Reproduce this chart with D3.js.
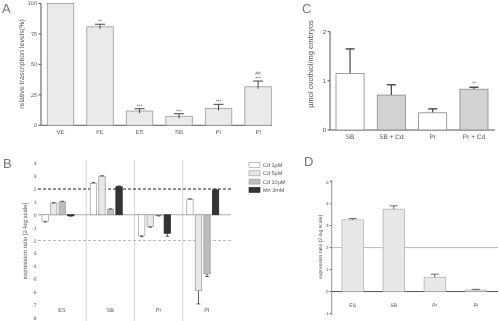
<!DOCTYPE html>
<html>
<head>
<meta charset="utf-8">
<script src="https://cdn.jsdelivr.net/npm/d3@7"></script>
<style>
  body { margin: 0; background: #fff; }
  svg { display: block; font-family: "Liberation Sans", Arial, sans-serif; text-rendering: geometricPrecision; will-change: transform; }
  text { -webkit-font-smoothing: antialiased; }
  .lbl { fill: #555; }
  .panel { fill: #777; font-size: 13px; }
</style>
</head>
<body>
<div class="display"></div>
<script>
// panel A: relative transcription levels
const aCats = ['VE', 'FE', 'ES', 'SB', 'Pr', 'Pl'];
const aVals = [100, 80.8, 11.7, 7.4, 13.9, 31.6];
const aErr = [0, 2.1, 1.9, 2.1, 3.3, 4.7];
const aMarks = [[], ['**'], ['***'], ['***'], ['***'], ['##', '***']];
const aTicks = [0, 25, 50, 75, 100];

// panel B: expression ratio per treatment
const bGroups = ['ES', 'SB', 'Pr', 'Pl'];
const bSeries = ['Cd 1µM', 'Cd 5µM', 'Cd 10µM', 'Mn 3mM'];
const bCd1 = [-0.5, 2.45, -1.62, 1.2];
const bCd5 = [0.9, 3.0, -0.92, -5.9];
const bCd10 = [1.0, 0.43, -0.07, -4.6];
const bMn = [-0.08, 2.18, -1.44, 1.93];
const bCd1Err = [0.06, 0.05, 0.08, 0.04];
const bCd5Err = [0.04, 0.03, 0.05, 1.03];
const bCd10Err = [0.05, 0.03, 0.02, 0.2];
const bMnErr = [0.03, 0.06, 0.23, 0.06];
const bTicks = [4, 3, 2, 1, 0, -1, -2, -3, -4, -5, -6, -7, -8];

// panel C: ovothiol content
const cCats = ['SB', 'SB + Cd', 'Pr', 'Pr + Cd'];
const cVals = [1.15, 0.71, 0.35, 0.83];
const cErr = [0.5, 0.21, 0.08, 0.04];
const cMarks = ['', '', '', '**'];
const cTicks = [0, 1, 2];

// panel D: expression ratio
const dCats = ['ES', 'SB', 'Pr', 'Pl'];
const dVals = [3.26, 3.75, 0.65, 0.07];
const dErr = [0.06, 0.15, 0.14, 0.03];
const dTicks = [5, 4, 3, 2, 1, 0, -1];

const bColors = ['#ffffff', '#e8e8e8', '#bdbdbd', '#333333'];
const cColors = ['#ffffff', '#d2d2d2', '#ffffff', '#d2d2d2'];

const svg = d3.select('.display')
  .append('svg')
  .attr('width', 500)
  .attr('height', 321);

svg.append('rect').attr('width', 500).attr('height', 321).attr('fill', '#fff');

const panelLetter = (x, y, t) => svg.append('text').attr('class', 'panel').attr('x', x).attr('y', y).text(t);

// ---------- A ----------
{
  const y = d3.scaleLinear().domain([0, 100]).range([125.3, 3.4]);
  const x = d3.scaleBand().domain(aCats).range([47.3, 271.3]).paddingInner(0.33);
  const g = svg.append('g');

  panelLetter(2, 13, 'A');

  g.append('line').attr('x1', 41).attr('x2', 272).attr('y1', y(0)).attr('y2', y(0))
    .attr('stroke', '#555').attr('stroke-width', 1);
  g.append('line').attr('x1', 41).attr('x2', 41).attr('y1', y(0)).attr('y2', y(100))
    .attr('stroke', '#555').attr('stroke-width', 1);

  aTicks.forEach(t => {
    g.append('line').attr('x1', 38.5).attr('x2', 41).attr('y1', y(t)).attr('y2', y(t)).attr('stroke', '#555');
    g.append('text').attr('class', 'lbl').attr('x', 37).attr('y', y(t) + 2)
      .attr('text-anchor', 'end').attr('font-size', 5.5).text(t);
  });

  g.append('text').attr('class', 'lbl').attr('font-size', 7)
    .attr('transform', `translate(24, 64) rotate(-90)`).attr('text-anchor', 'middle')
    .text('relative trascription levels(%)');

  aCats.forEach((c, i) => {
    const cx = x(c) + x.bandwidth() / 2;
    g.append('rect').attr('x', x(c)).attr('y', y(aVals[i]))
      .attr('width', x.bandwidth()).attr('height', y(0) - y(aVals[i]))
      .attr('fill', '#eaeaea').attr('stroke', '#9a9a9a').attr('stroke-width', 0.8);
    if (aErr[i] > 0) {
      const top = y(aVals[i] + aErr[i]);
      g.append('line').attr('x1', cx).attr('x2', cx).attr('y1', y(aVals[i]) + 2).attr('y2', top).attr('stroke', '#444');
      g.append('line').attr('x1', cx - 5).attr('x2', cx + 5).attr('y1', top).attr('y2', top).attr('stroke', '#444');
    }
    const top = y(aVals[i] + aErr[i]);
    aMarks[i].slice().reverse().forEach((m, k) => {
      g.append('text').attr('class', 'lbl').attr('x', cx).attr('y', top - 1 - k * 5.5)
        .attr('text-anchor', 'middle').attr('font-size', 5).text(m);
    });
    g.append('text').attr('class', 'lbl').attr('x', cx).attr('y', 133.5)
      .attr('text-anchor', 'middle').attr('font-size', 6).text(c);
  });
}

// ---------- B ----------
{
  const y = d3.scaleLinear().domain([-8, 4]).range([317.7, 163.3]);
  const xg = d3.scaleBand().domain(bGroups).range([38, 231]);
  const xs = d3.scaleBand().domain(bSeries).range([4, 36]).paddingInner(0.25);
  const vals = [bCd1, bCd5, bCd10, bMn];
  const errs = [bCd1Err, bCd5Err, bCd10Err, bMnErr];
  const g = svg.append('g');

  panelLetter(3, 168, 'B');

  bGroups.slice(1).forEach(c => {
    g.append('line').attr('x1', xg(c)).attr('x2', xg(c)).attr('y1', 160).attr('y2', 321)
      .attr('stroke', '#c4c4c4').attr('stroke-width', 0.7);
  });

  bTicks.forEach(t => {
    g.append('text').attr('class', 'lbl').attr('x', 36.5).attr('y', y(t) + 2)
      .attr('text-anchor', 'end').attr('font-size', 5).text(t);
  });

  g.append('text').attr('class', 'lbl').attr('font-size', 6)
    .attr('transform', `translate(27, 241) rotate(-90)`).attr('text-anchor', 'middle')
    .text('expression ratio [2-log scale]');

  g.append('line').attr('x1', 38).attr('x2', 231).attr('y1', y(0)).attr('y2', y(0))
    .attr('stroke', '#999').attr('stroke-width', 0.8);
  g.append('line').attr('x1', 38).attr('x2', 231).attr('y1', y(2)).attr('y2', y(2))
    .attr('stroke', '#222').attr('stroke-width', 1).attr('stroke-dasharray', '3,2');
  g.append('line').attr('x1', 38).attr('x2', 231).attr('y1', y(-2)).attr('y2', y(-2))
    .attr('stroke', '#aaa').attr('stroke-width', 0.8).attr('stroke-dasharray', '3,2');

  bGroups.forEach((grp, gi) => {
    bSeries.forEach((s, si) => {
      const v = vals[si][gi];
      const e = errs[si][gi];
      const bx = xg(grp) + xs(s);
      const cx = bx + xs.bandwidth() / 2;
      g.append('rect').attr('x', bx).attr('y', y(Math.max(0, v)))
        .attr('width', xs.bandwidth()).attr('height', Math.abs(y(v) - y(0)))
        .attr('fill', bColors[si]).attr('stroke', si === 3 ? '#222' : '#999').attr('stroke-width', 0.7);
      const end = y(v + Math.sign(v) * e);
      g.append('line').attr('x1', cx).attr('x2', cx).attr('y1', y(v)).attr('y2', end).attr('stroke', '#333').attr('stroke-width', 0.8);
      g.append('line').attr('x1', cx - 1.8).attr('x2', cx + 1.8).attr('y1', end).attr('y2', end).attr('stroke', '#333').attr('stroke-width', 0.8);
    });
    g.append('text').attr('class', 'lbl').attr('x', xg(grp) + 24).attr('y', 312)
      .attr('text-anchor', 'middle').attr('font-size', 5.5).text(grp);
  });

  // legend
  const lg = svg.append('g');
  bSeries.forEach((s, i) => {
    const ly = 162.5 + i * 8.3;
    lg.append('rect').attr('x', 249).attr('y', ly).attr('width', 11).attr('height', 5)
      .attr('fill', bColors[i]).attr('stroke', i === 3 ? '#222' : '#999').attr('stroke-width', 0.6);
    lg.append('text').attr('class', 'lbl').attr('x', 263).attr('y', ly + 4.5)
      .attr('font-size', 5.5).text(s);
  });
}

// ---------- C ----------
{
  const y = d3.scaleLinear().domain([0, 2]).range([130, 31.7]);
  const x = d3.scaleBand().domain(cCats).range([336, 488]).paddingInner(0.32);
  const g = svg.append('g');

  panelLetter(302, 13, 'C');

  g.append('line').attr('x1', 330).attr('x2', 495).attr('y1', y(0)).attr('y2', y(0)).attr('stroke', '#555');
  g.append('line').attr('x1', 330).attr('x2', 330).attr('y1', y(0)).attr('y2', y(2)).attr('stroke', '#555');

  cTicks.forEach(t => {
    g.append('line').attr('x1', 327.5).attr('x2', 330).attr('y1', y(t)).attr('y2', y(t)).attr('stroke', '#555');
    g.append('text').attr('class', 'lbl').attr('x', 326).attr('y', y(t) + 2.2)
      .attr('text-anchor', 'end').attr('font-size', 6).text(t);
  });

  g.append('text').attr('class', 'lbl').attr('font-size', 7.5)
    .attr('transform', `translate(313, 64) rotate(-90)`).attr('text-anchor', 'middle')
    .text('µmol ovothiol/mg embryos');

  cCats.forEach((c, i) => {
    const cx = x(c) + x.bandwidth() / 2;
    const top = y(cVals[i] + cErr[i]);
    g.append('line').attr('x1', cx).attr('x2', cx).attr('y1', y(cVals[i])).attr('y2', top).attr('stroke', '#444').attr('stroke-width', 1.2);
    g.append('line').attr('x1', cx - 4.5).attr('x2', cx + 4.5).attr('y1', top).attr('y2', top).attr('stroke', '#444').attr('stroke-width', 1.4);
    g.append('rect').attr('x', x(c)).attr('y', y(cVals[i]))
      .attr('width', x.bandwidth()).attr('height', y(0) - y(cVals[i]))
      .attr('fill', cColors[i]).attr('stroke', '#888').attr('stroke-width', 0.8);
    if (cMarks[i]) {
      g.append('text').attr('class', 'lbl').attr('x', cx).attr('y', top - 2)
        .attr('text-anchor', 'middle').attr('font-size', 5).text(cMarks[i]);
    }
    g.append('text').attr('class', 'lbl').attr('x', cx).attr('y', 139)
      .attr('text-anchor', 'middle').attr('font-size', 6.5).text(c);
  });
}

// ---------- D ----------
{
  const y = d3.scaleLinear().domain([-1, 5]).range([313.5, 181.7]);
  const x = d3.scaleBand().domain(dCats).range([342, 486.5]).paddingInner(0.48);
  const g = svg.append('g');

  panelLetter(304, 166, 'D');

  g.append('line').attr('x1', 331.7).attr('x2', 331.7).attr('y1', 180).attr('y2', 315).attr('stroke', '#777').attr('stroke-width', 0.8);
  g.append('line').attr('x1', 331.7).attr('x2', 498).attr('y1', y(0)).attr('y2', y(0)).attr('stroke', '#555');
  g.append('line').attr('x1', 331.7).attr('x2', 498).attr('y1', y(2)).attr('y2', y(2)).attr('stroke', '#999').attr('stroke-width', 0.7);

  dTicks.forEach(t => {
    g.append('line').attr('x1', 329.5).attr('x2', 331.7).attr('y1', y(t)).attr('y2', y(t)).attr('stroke', '#777');
    g.append('text').attr('class', 'lbl').attr('x', 328.5).attr('y', y(t) + 1.8)
      .attr('text-anchor', 'end').attr('font-size', 4.5).text(t);
  });

  g.append('text').attr('class', 'lbl').attr('font-size', 5)
    .attr('transform', `translate(322, 247) rotate(-90)`).attr('text-anchor', 'middle')
    .text('expression ratio [2-log scale]');

  dCats.forEach((c, i) => {
    const cx = x(c) + x.bandwidth() / 2;
    const top = y(dVals[i] + dErr[i]);
    g.append('rect').attr('x', x(c)).attr('y', y(dVals[i]))
      .attr('width', x.bandwidth()).attr('height', y(0) - y(dVals[i]))
      .attr('fill', '#e8e8e8').attr('stroke', '#aaa').attr('stroke-width', 0.7);
    g.append('line').attr('x1', cx).attr('x2', cx).attr('y1', y(dVals[i])).attr('y2', top).attr('stroke', '#444').attr('stroke-width', 0.8);
    g.append('line').attr('x1', cx - 4).attr('x2', cx + 4).attr('y1', top).attr('y2', top).attr('stroke', '#444').attr('stroke-width', 0.8);
    g.append('text').attr('class', 'lbl').attr('x', cx).attr('y', 307)
      .attr('text-anchor', 'middle').attr('font-size', 5).text(c);
  });
}
</script>
</body>
</html>
